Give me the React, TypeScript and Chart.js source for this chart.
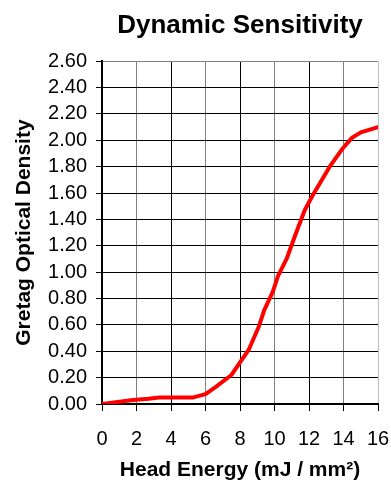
import React, { useEffect, useRef } from "react";
import { Chart, registerables } from "chart.js";

Chart.register(...registerables);

const energy = [0, 1.8, 2.7, 3.3, 5.3, 6.0, 6.6, 7.5, 8.5, 9.1, 9.4, 9.9, 10.2, 10.7, 11.2, 11.75, 12.2, 13.2, 13.9, 14.5, 15.0, 16.0];
const density = [0, 0.03, 0.04, 0.05, 0.05, 0.075, 0.13, 0.22, 0.41, 0.59, 0.71, 0.85, 0.97, 1.1, 1.28, 1.47, 1.58, 1.8, 1.93, 2.02, 2.06, 2.1];

const titleText = "Dynamic Sensitivity";
const xTitle = "Head Energy (mJ / mm²)";
const yTitle = "Gretag Optical Density";

const FONT = "'Liberation Sans', Arial, sans-serif";

export default function App() {
  const ref = useRef<HTMLCanvasElement | null>(null);
  useEffect(() => {
    document.body.style.margin = "0";
    const canvas = ref.current;
    if (!canvas) return;
    const chart = new Chart(canvas, {
      type: "scatter",
      data: {
        datasets: [
          {
            data: energy.map((x, i) => ({ x, y: density[i] })),
            showLine: true,
            borderColor: "#ff0000",
            backgroundColor: "#ff0000",
            borderWidth: 4,
            pointRadius: 0,
            tension: 0,
            borderJoinStyle: "round",
            borderCapStyle: "round",
          },
        ],
      },
      options: {
        responsive: false,
        animation: false,
        devicePixelRatio: 1,
        layout: { padding: { left: 0, right: 13, top: 0, bottom: 0 } },
        plugins: {
          legend: { display: false },
          tooltip: { enabled: false },
          title: {
            display: true,
            text: titleText,
            fullSize: false,
            color: "#000",
            font: { family: FONT, size: 26, weight: "bold", lineHeight: 1.2 },
            padding: { top: 10, bottom: 20 },
          },
        },
        scales: {
          x: {
            type: "linear",
            min: 0,
            max: 16,
            afterFit: (s: any) => {
              s.height = 81;
              s.paddingLeft = 0;
              s.paddingRight = 0;
            },
            ticks: {
              stepSize: 2,
              autoSkip: false,
              color: "#000",
              padding: 16,
              font: { family: FONT, size: 20 },
              maxRotation: 0,
            },
            grid: {
              color: (c: any) => {
                const v = c.tick ? c.tick.value : 0;
                if (v === 16) return "#c0c0c0";
                if (v === 2 || v === 6 || v === 10 || v === 14) return "#808080";
                return "#000";
              },
              tickColor: "#000",
              lineWidth: 1,
              tickLength: 7,
              drawTicks: true,
            },
            border: { display: true, color: "#000", width: 2 },
            title: {
              display: true,
              text: xTitle,
              color: "#000",
              font: { family: FONT, size: 21, weight: "bold", lineHeight: 1.2 },
              padding: { top: 0, bottom: 2 },
            },
          },
          y: {
            type: "linear",
            min: 0,
            max: 2.6,
            afterFit: (s: any) => {
              s.width = 102;
              s.paddingTop = 0;
              s.paddingBottom = 0;
            },
            ticks: {
              stepSize: 0.2,
              autoSkip: false,
              color: "#000",
              padding: 9,
              font: { family: FONT, size: 20 },
              callback: (v: any) => Number(v).toFixed(2),
            },
            grid: {
              color: (c: any) => {
                const v = c.tick ? c.tick.value : 0;
                if (Math.abs(v - 2.6) < 1e-6) return "#808080";
                return "#000";
              },
              tickColor: "#000",
              lineWidth: 1,
              tickLength: 6,
            },
            border: { display: true, color: "#000", width: 2 },
            title: {
              display: true,
              text: yTitle,
              color: "#000",
              font: { family: FONT, size: 21, weight: "bold", lineHeight: 1.2 },
              padding: { top: 12, bottom: 0 },
            },
          },
        },
      },
    });
    return () => chart.destroy();
  }, []);
  return (
    <div style={{ width: 391, height: 485 }}>
      <canvas ref={ref} width={391} height={485} style={{ display: "block" }} />
    </div>
  );
}
